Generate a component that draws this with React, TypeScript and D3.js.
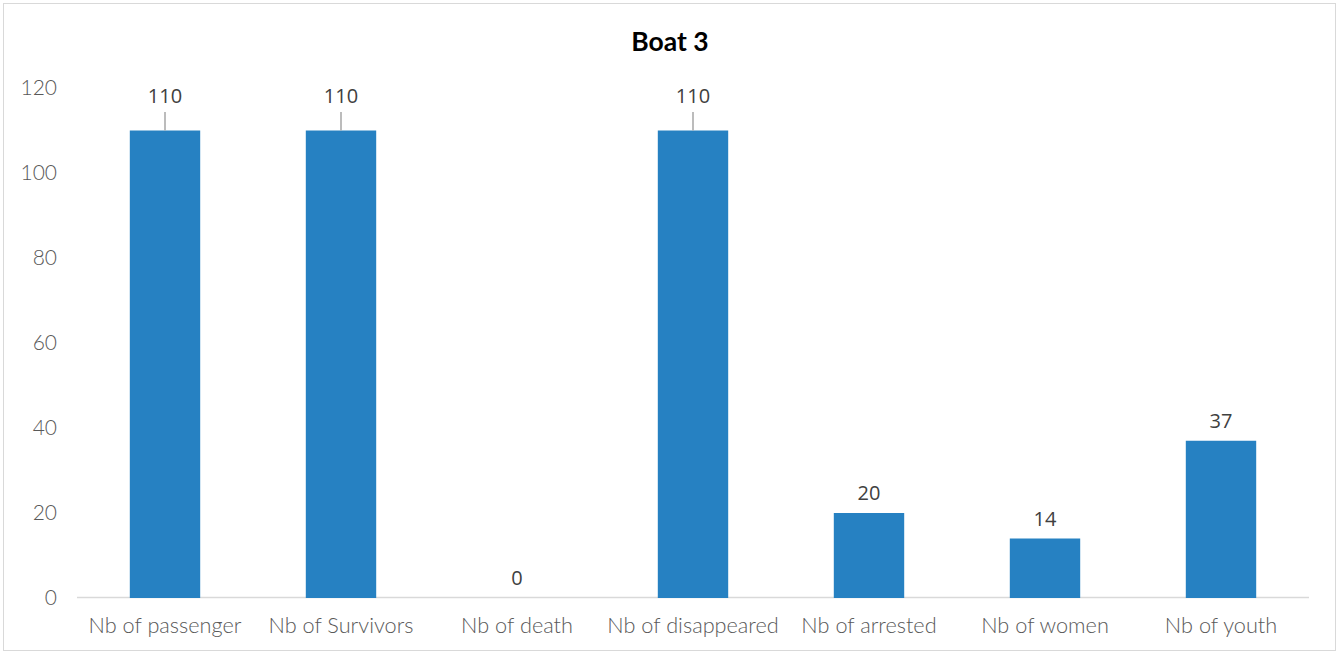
import React from "react";
import * as d3 from "d3";

const categories = [
  "Nb of passenger",
  "Nb of Survivors",
  "Nb of death",
  "Nb of disappeared",
  "Nb of arrested",
  "Nb of women",
  "Nb of youth",
];
const values = [110, 110, 0, 110, 20, 14, 37];
const yTicks = [0, 20, 40, 60, 80, 100, 120];
const title = "Boat 3";

const W = 1337;
const H = 652;
const left = 77;
const right = 1309;
const top = 88;
const bottom = 598;

export default function App() {
  const x = d3.scaleBand<string>().domain(categories).range([left, right]).paddingInner(0.6).paddingOuter(0.3);
  const y = d3.scaleLinear().domain([0, 120]).range([bottom, top]);
  const bw = x.bandwidth();
  return (
    <svg width={W} height={H} style={{ position: "absolute", left: 0, top: 0 }}>
      <rect x={3.5} y={3.5} width={W - 5} height={H - 5} fill="#fff" stroke="#d9d9d9" strokeWidth={1} />
      <text x={670} y={51} textAnchor="middle" fontFamily="Lato" fontWeight={700} fontSize={26.5} fill="#000">
        {title}
      </text>
      {yTicks.map((t) => (
        <text key={t} x={57} y={y(t)} dy="0.35em" textAnchor="end" fontFamily="Lato" fontWeight={300} fontSize={21} fill="#595959">
          {t}
        </text>
      ))}
      <line x1={left} x2={right} y1={y(0) - 0.5} y2={y(0) - 0.5} stroke="#d9d9d9" strokeWidth={1.5} />
      {categories.map((c, i) => {
        const v = values[i];
        const cx = (x(c) as number) + bw / 2;
        const bumped = v >= 100;
        const labelY = bumped ? 103 : y(v) - 13;
        return (
          <g key={c}>
            {v > 0 && <rect x={x(c)} y={y(v)} width={bw} height={y(0) - y(v)} fill="#2681c2" />}
            {bumped && <line x1={cx} x2={cx} y1={y(v)} y2={112} stroke="#a6a6a6" strokeWidth={1.5} />}
            <text x={cx} y={labelY} textAnchor="middle" fontFamily="Open Sans" fontWeight={400} fontSize={20} fill="#404040">
              {v}
            </text>
            <text x={cx} y={633} textAnchor="middle" fontFamily="Lato" fontWeight={300} fontSize={21.7} fill="#595959">
              {c}
            </text>
          </g>
        );
      })}
    </svg>
  );
}
